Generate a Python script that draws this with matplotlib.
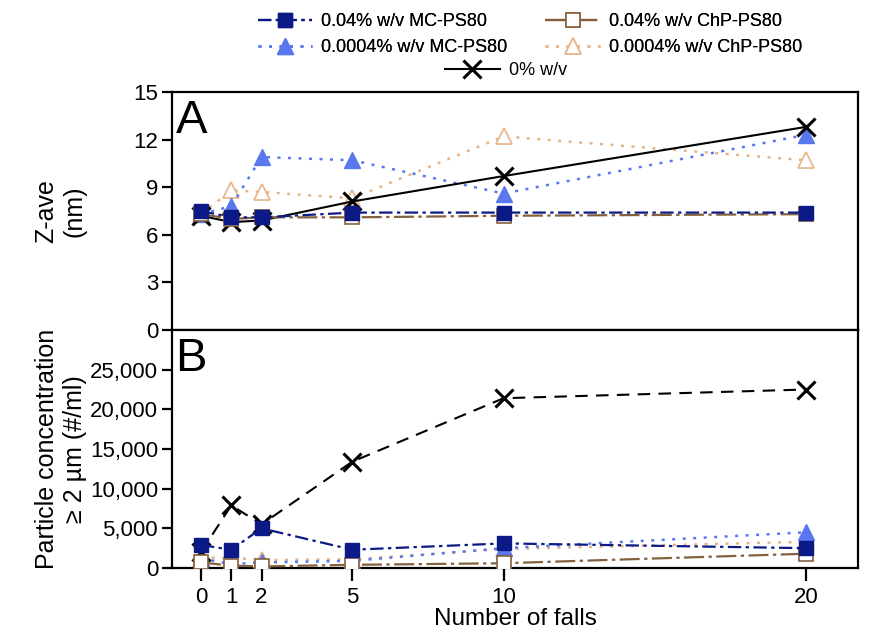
import matplotlib
matplotlib.use("Agg")
import matplotlib.pyplot as plt
from matplotlib.lines import Line2D

plt.rcParams['font.family'] = ['Liberation Sans', 'DejaVu Sans']

falls = [0, 1, 2, 5, 10, 20]
xtick_labels = ['0', '1', '2', '5', '10', '20']

labels = ['0.04% w/v MC-PS80', '0.04% w/v ChP-PS80',
          '0.0004% w/v MC-PS80', '0.0004% w/v ChP-PS80', '0% w/v']

# Panel A: Z-ave (nm)
zave_mc004 = [7.5, 7.1, 7.1, 7.4, 7.4, 7.4]
zave_chp004 = [7.3, 7.0, 7.1, 7.1, 7.2, 7.3]
zave_mc00004 = [7.3, 7.8, 10.9, 10.7, 8.6, 12.3]
zave_chp00004 = [7.3, 8.8, 8.7, 8.3, 12.2, 10.7]
zave_zero = [7.2, 6.8, 6.9, 8.1, 9.7, 12.8]

# Panel B: particle concentration >= 2 um (#/ml)
pc_mc004 = [2900, 2300, 5000, 2300, 3100, 2500]
pc_chp004 = [700, 300, 200, 400, 600, 1800]
pc_mc00004 = [1200, 500, 700, 900, 2500, 4500]
pc_chp00004 = [1300, 1300, 1000, 1100, 2400, 3300]
pc_zero = [2000, 7900, 5500, 13400, 21400, 22500]

navy = '#0b1a86'
brown = '#85603d'
blue = '#5a78ee'
tan = '#e6b487'

styles = {
    'mc004': dict(color=navy, marker='s', ms=10, mfc=navy, mec=navy, ls=(0, (6, 2, 1.5, 2)), lw=1.6),
    'chp004': dict(color=brown, marker='s', ms=10, mfc='white', mec=brown, mew=1.2, ls=(0, (9, 2, 1.5, 2)), lw=1.6),
    'mc00004': dict(color=blue, marker='^', ms=12, mfc=blue, mec=blue, ls=(0, (1.2, 3)), lw=1.8),
    'chp00004': dict(color=tan, marker='^', ms=12, mfc='white', mec=tan, mew=1.2, ls=(0, (1.2, 3)), lw=1.8),
}

fig = plt.figure(figsize=(8.71, 6.34), dpi=100)
axA = fig.add_axes([172/871, 1-330/634, 686/871, 238/634])
axB = fig.add_axes([172/871, 1-568/634, 686/871, 238/634])

def draw(ax, zero, mc004, chp004, mc00004, chp00004, zero_ls):
    ax.plot(falls, chp00004, zorder=3, **styles['chp00004'])
    ax.plot(falls, mc00004, zorder=3, **styles['mc00004'])
    ax.plot(falls, zero, color='black', marker='x', ms=13, mew=2.2, ls=zero_ls, lw=1.5, zorder=4)
    ax.plot(falls, chp004, zorder=5, **styles['chp004'])
    ax.plot(falls, mc004, zorder=6, **styles['mc004'])

draw(axA, zave_zero, zave_mc004, zave_chp004, zave_mc00004, zave_chp00004, '-')
draw(axB, pc_zero, pc_mc004, pc_chp004, pc_mc00004, pc_chp00004, (0, (6, 4)))

for ax in (axA, axB):
    ax.set_xlim(-0.96, 21.72)
    ax.set_xticks(falls)
    for s in ax.spines.values():
        s.set_linewidth(1.6)
    ax.tick_params(axis='both', direction='out', width=1.6, labelsize=16)
    ax.tick_params(axis='y', length=7, pad=3)
    ax.tick_params(axis='x', length=9, pad=5)

axA.set_ylim(0, 15)
axA.set_yticks([0, 3, 6, 9, 12, 15])
axA.set_xticklabels([])
axA.set_ylabel('Z-ave\n(nm)', fontsize=18, linespacing=1.2)
axA.yaxis.set_label_coords(-0.125, 0.5)
axA.text(0.005, 0.97, 'A', transform=axA.transAxes, fontsize=34, va='top', ha='left')

axB.set_ylim(0, 30000)
yt = [0, 5000, 10000, 15000, 20000, 25000]
axB.set_yticks(yt)
axB.set_yticklabels([f'{v:,}' for v in yt])
axB.set_xticklabels(xtick_labels)
axB.set_xlabel('Number of falls', fontsize=17.5, labelpad=0)
axB.set_ylabel('Particle concentration\n≥ 2 µm (#/ml)', fontsize=18, linespacing=1.2)
axB.yaxis.set_label_coords(-0.124, 0.5)
axB.text(0.005, 0.97, 'B', transform=axB.transAxes, fontsize=34, va='top', ha='left')

h = {
    'mc004': Line2D([], [], **styles['mc004']),
    'chp004': Line2D([], [], **styles['chp004']),
    'mc00004': Line2D([], [], **styles['mc00004']),
    'chp00004': Line2D([], [], **styles['chp00004']),
}
# column-major order so rows read: 0.04% pair, then 0.0004% pair
leg1 = fig.legend([h['mc004'], h['mc00004'], h['chp004'], h['chp00004']],
                  [labels[0], labels[2], labels[1], labels[3]],
                  ncol=2, loc='upper center', bbox_to_anchor=(530/871, 1.005),
                  frameon=False, fontsize=13, handlelength=3, columnspacing=2.1,
                  labelspacing=0.5, handletextpad=0.5)
h0 = Line2D([], [], color='black', marker='x', ms=13, mew=2.2, ls='-', lw=1.5)
leg2 = fig.legend([h0], labels[4:], loc='upper center', bbox_to_anchor=(506/871, 1-46/634),
                  frameon=False, fontsize=13, handlelength=3, handletextpad=0.5)
fig.add_artist(leg1)

fig.savefig('out.png', dpi=100)
